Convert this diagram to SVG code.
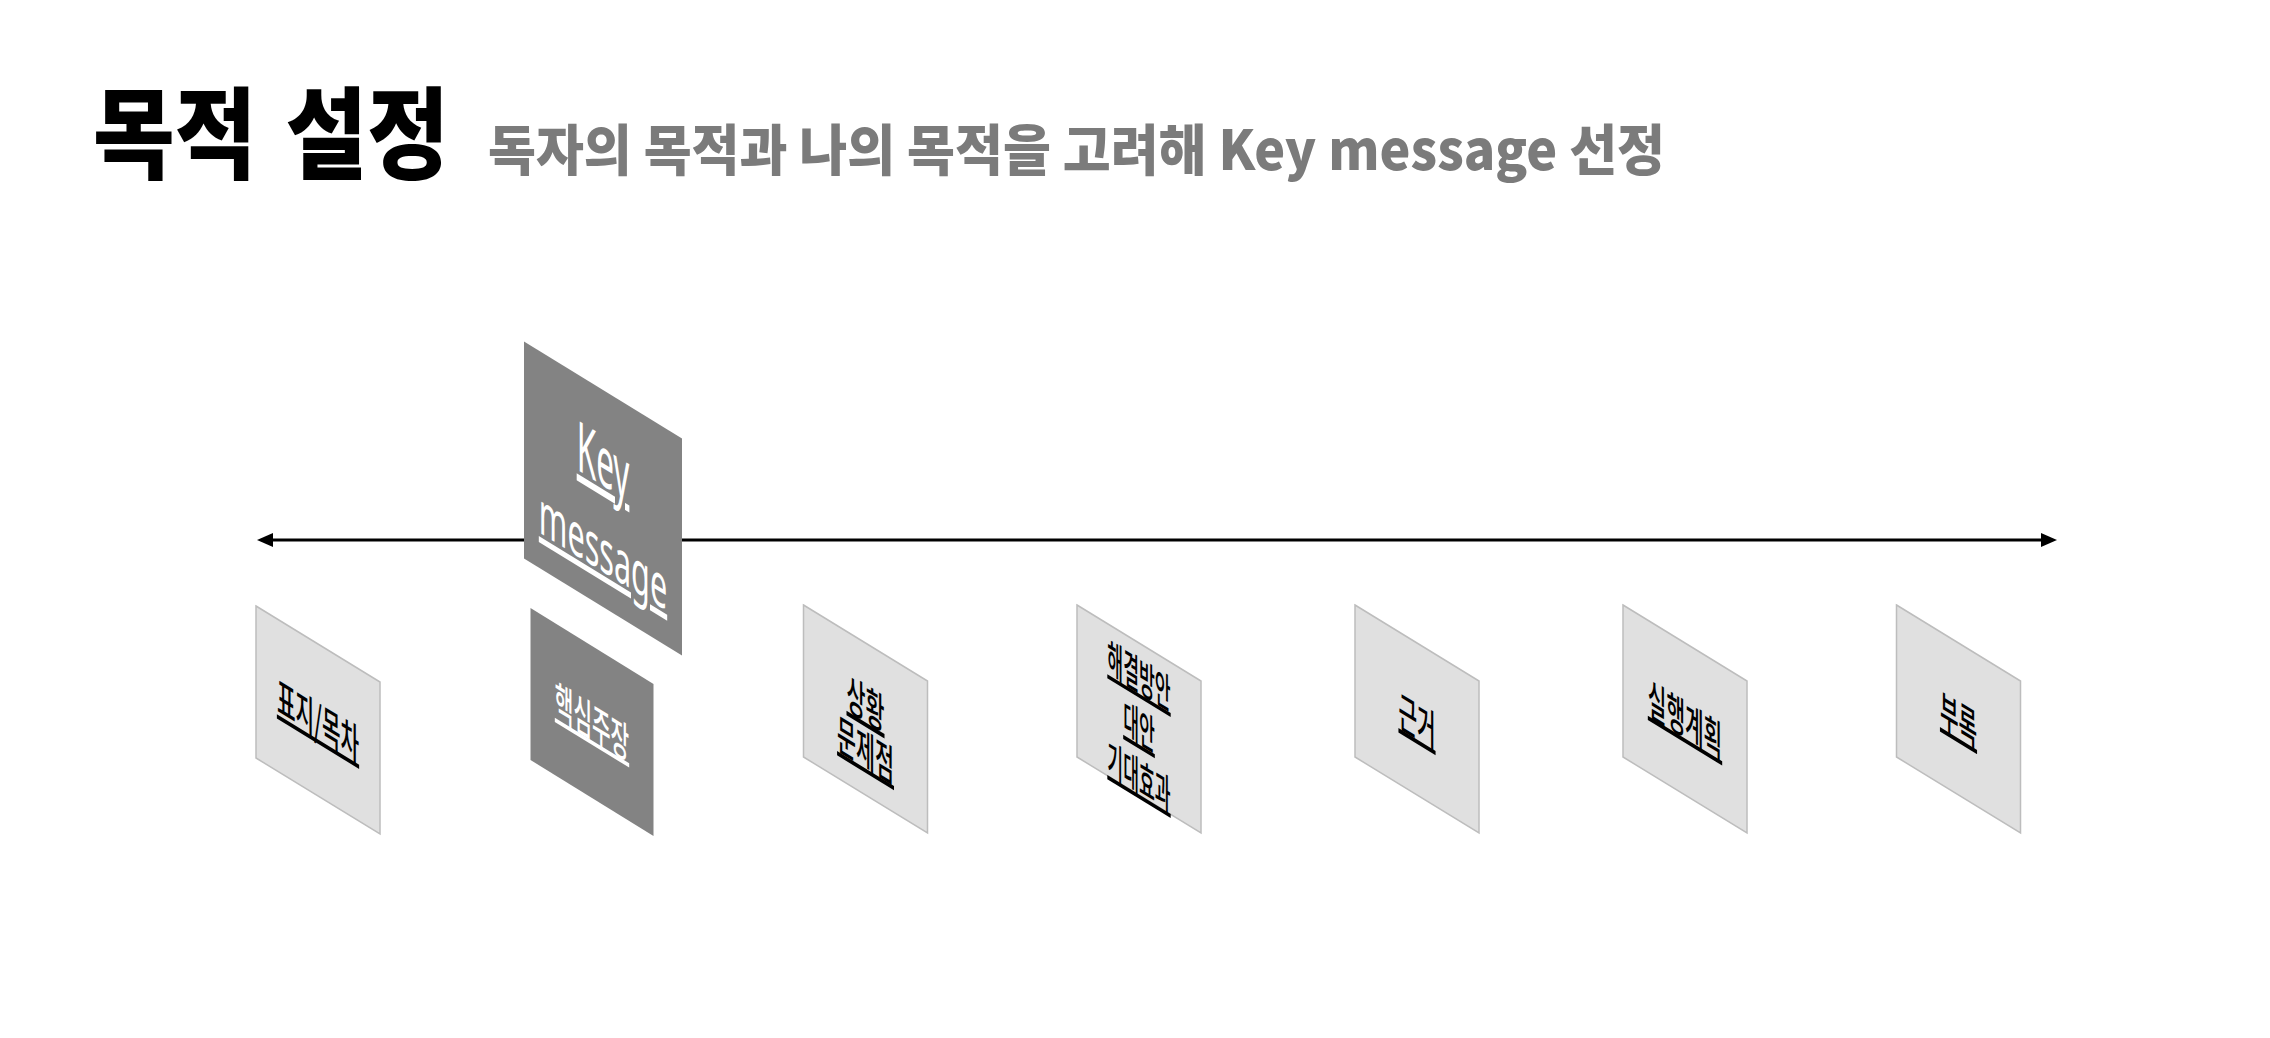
<svg xmlns="http://www.w3.org/2000/svg" width="2270" height="1038" viewBox="0 0 2270 1038">
<style>
.light{fill:#e0e0e0;stroke:#bdbdbd;stroke-width:1.5}
.dark{fill:#838383;stroke:none}
.kr{font-family:"Noto Sans CJK KR","Noto Sans",sans-serif;font-weight:500;text-anchor:middle;text-decoration:underline}
.en{font-family:"Noto Sans","Noto Sans CJK KR",sans-serif;font-weight:400;text-anchor:middle;text-decoration:underline}
.blk{fill:#000}
.wht{fill:#fff}
.conn{stroke:#000;stroke-width:3;fill:none}
</style>
<defs>
<marker id="ah" markerUnits="userSpaceOnUse" viewBox="0 0 16 14" markerWidth="16" markerHeight="14" refX="9" refY="7" orient="auto-start-reverse">
<path d="M0,0 L16,7 L0,14 z" fill="#000"/>
</marker>
</defs>
<rect width="2270" height="1038" fill="#fff"/>
<g id="title">
<text transform="translate(93,171) scale(0.888,1)" font-family="'Noto Sans CJK KR',sans-serif" font-weight="900" font-size="100" fill="#000" word-spacing="10">목적 설정</text>
<text x="488" y="170" textLength="1177" lengthAdjust="spacingAndGlyphs" font-family="'Noto Sans CJK KR',sans-serif" font-weight="900" font-size="55" fill="#7b7b7b">독자의 목적과 나의 목적을 고려해 Key message 선정</text>
</g>
<g id="connectors">
<line class="conn" x1="264" y1="540" x2="2050" y2="540" marker-start="url(#ah)" marker-end="url(#ah)"/>
</g>
<g id="node-keymessage">
<polygon class="dark" points="524,341.5 682,438.5 682,655.5 524,558.5"/>
<text class="en wht" font-size="70" transform="translate(603,497.7) skewY(31.5) scale(0.45,1)" y="-12">Key</text>
<text class="en wht" font-size="60" transform="translate(603,497.7) skewY(31.5) scale(0.51,1)" y="74">message</text>
</g>
<g id="node-pyoji">
<polygon class="light" points="256,606 380,682 380,834 256,758"/>
<text class="kr blk" font-size="43" transform="translate(318,720) skewY(31.5) scale(0.47,1)" y="17">표지/목차</text>
</g>
<g id="node-haeksim">
<polygon class="dark" points="530.5,608 653.5,684 653.5,836 530.5,760"/>
<text class="kr wht" font-size="43" transform="translate(592,722) skewY(31.5) scale(0.47,1)" y="16">핵심주장</text>
</g>
<g id="node-sanghwang">
<polygon class="light" points="803.5,605 927.5,681 927.5,833 803.5,757"/>
<text class="kr blk" font-size="43" transform="translate(865.5,719) skewY(31.5) scale(0.48,1)"><tspan x="0" y="1">상황</tspan><tspan x="0" y="47">문제점</tspan></text>
</g>
<g id="node-haegyeol">
<polygon class="light" points="1077,605 1201,681 1201,833 1077,757"/>
<text class="kr blk" font-size="41" transform="translate(1139,719) skewY(31.5) scale(0.42,1)"><tspan x="0" y="-28">해결방안</tspan><tspan x="0" y="23">대안</tspan><tspan x="0" y="73">기대효과</tspan></text>
</g>
<g id="node-geungeo">
<polygon class="light" points="1355,605 1479,681 1479,833 1355,757"/>
<text class="kr blk" font-size="43" transform="translate(1417,719) skewY(31.5) scale(0.47,1)" y="18">근거</text>
</g>
<g id="node-silhaeng">
<polygon class="light" points="1623,605 1747,681 1747,833 1623,757"/>
<text class="kr blk" font-size="43" transform="translate(1685,719) skewY(31.5) scale(0.47,1)" y="17">실행계획</text>
</g>
<g id="node-burok">
<polygon class="light" points="1896.5,605 2020.5,681 2020.5,833 1896.5,757"/>
<text class="kr blk" font-size="43" transform="translate(1958.5,719) skewY(31.5) scale(0.47,1)" y="17">부록</text>
</g>
</svg>
